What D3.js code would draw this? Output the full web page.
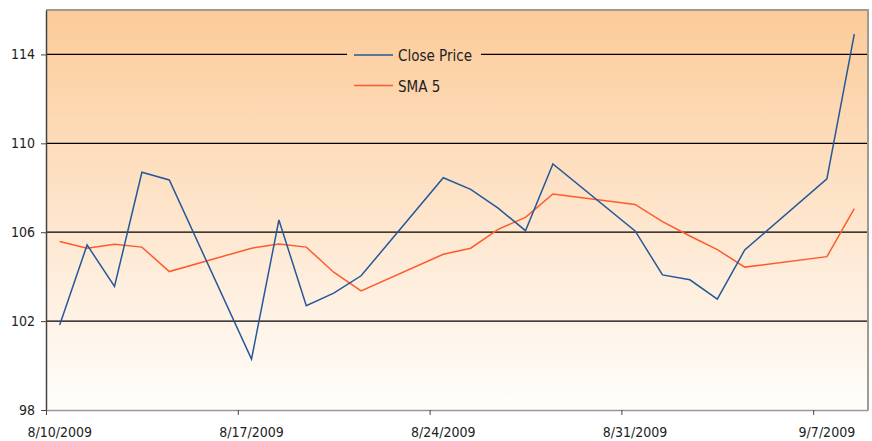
<!DOCTYPE html>
<html>
<head>
<meta charset="utf-8">
<script src="https://cdn.jsdelivr.net/npm/d3@7"></script>
<style>
  body { margin: 0; background: #fff; }
  text { font-family: "Liberation Sans Narrow", "Arial Narrow", "DejaVu Sans Condensed", sans-serif; fill: #222; }
</style>
</head>
<body>
<svg id="chart" width="872" height="441"></svg>
<script>
// chart data
var dates = ["2009-08-10", "2009-08-11", "2009-08-12", "2009-08-13", "2009-08-14",
             "2009-08-17", "2009-08-18", "2009-08-19", "2009-08-20", "2009-08-21",
             "2009-08-24", "2009-08-25", "2009-08-26", "2009-08-27", "2009-08-28",
             "2009-08-31", "2009-09-01", "2009-09-02", "2009-09-03", "2009-09-04",
             "2009-09-07", "2009-09-08"];
var close_price = [101.83, 105.43, 103.56, 108.70, 108.35,
                   100.29, 106.55, 102.69, 103.26, 104.04,
                   108.45, 107.93, 107.08, 106.07, 109.07,
                   106.06, 104.08, 103.86, 102.99, 105.20,
                   108.40, 114.91];
var sma_5 = [105.58, 105.28, 105.46, 105.33, 104.23,
             105.28, 105.47, 105.33, 104.20, 103.36,
             105.01, 105.28, 106.13, 106.67, 107.72,
             107.25, 106.48, 105.83, 105.22, 104.43,
             104.90, 107.06];
var y_ticks = [98, 102, 106, 110, 114];
var x_ticks = ["2009-08-10", "2009-08-17", "2009-08-24", "2009-08-31", "2009-09-07"];
var series_names = ["Close Price", "SMA 5"];

var blue = "#24589a";
var orange = "#ff5a2c";
var top_col = "#fccb99";
var bottom_col = "#fffefc";

var svg = d3.select("#chart");
var margin = {left: 46, right: 4, top: 10, bottom: 31};
var width = 872 - margin.left - margin.right;
var height = 441 - margin.top - margin.bottom;

var parse = d3.timeParse("%Y-%m-%d");
var fmt = d3.timeFormat("%-m/%-d/%Y");

// each day is a slot, the point sits in the middle of it
function noon(d) { return d3.timeHour.offset(d, 12); }

var x = d3.scaleTime()
    .domain([parse("2009-08-10"), parse("2009-09-09")])
    .range([0, width]);
var y = d3.scaleLinear().domain([98, 116]).range([height, 0]);

// background gradient (one for the plot, one shifted for the legend box)
var defs = svg.append("defs");
function add_gradient(id, offset) {
    var lg = defs.append("linearGradient")
        .attr("id", id)
        .attr("gradientUnits", "userSpaceOnUse")
        .attr("x1", 0).attr("y1", -offset).attr("x2", 0).attr("y2", height - offset);
    lg.append("stop").attr("offset", "0%").attr("stop-color", top_col);
    lg.append("stop").attr("offset", "100%").attr("stop-color", bottom_col);
}
add_gradient("bg", 0);
add_gradient("bg_leg", 33);

var g = svg.append("g").attr("transform", "translate(" + margin.left + "," + margin.top + ")");

g.append("rect")
    .attr("width", width).attr("height", height)
    .attr("fill", "url(#bg)");

// horizontal gridlines
g.selectAll(".grid")
    .data(y_ticks.filter(function(d) { return d > 98; }))
    .enter().append("line")
    .attr("class", "grid")
    .attr("x1", 0).attr("x2", width)
    .attr("y1", function(d) { return y(d); })
    .attr("y2", function(d) { return y(d); })
    .attr("stroke", "#000")
    .attr("stroke-width", 1.2);

// plot border on top and right
g.append("path")
    .attr("d", "M0,0H" + width + "V" + height)
    .attr("fill", "none")
    .attr("stroke", "#a09a92")
    .attr("stroke-width", 2);

// y axis
var yAxis = g.append("g")
    .call(d3.axisLeft(y).tickValues(y_ticks).tickSize(5).tickSizeOuter(0).tickPadding(6).tickFormat(d3.format("d")));
yAxis.select(".domain").attr("stroke", "#444").attr("stroke-width", 1.5);
yAxis.selectAll(".tick line").attr("stroke", "#444");
yAxis.selectAll("text").style("font-size", "14px").attr("fill", "#222");

// x axis - tick marks at the start of the day, labels under the point
var xAxis = g.append("g")
    .attr("transform", "translate(0," + height + ")")
    .call(d3.axisBottom(x).tickValues(x_ticks.map(parse)).tickSize(5).tickSizeOuter(0).tickFormat(""));
xAxis.select(".domain").attr("stroke", "#999").attr("stroke-width", 1.5);
xAxis.selectAll(".tick line").attr("stroke", "#444");

g.selectAll(".xlabel")
    .data(x_ticks)
    .enter().append("text")
    .attr("class", "xlabel")
    .attr("x", function(d) { return x(noon(parse(d))); })
    .attr("y", height + 27)
    .attr("text-anchor", "middle")
    .style("font-size", "14px")
    .text(function(d) { return fmt(parse(d)); });

// lines
var line = d3.line()
    .x(function(d) { return x(noon(parse(d[0]))); })
    .y(function(d) { return y(d[1]); });

g.append("path")
    .datum(d3.zip(dates, sma_5))
    .attr("fill", "none")
    .attr("stroke", orange)
    .attr("stroke-width", 1.5)
    .attr("d", line);

g.append("path")
    .datum(d3.zip(dates, close_price))
    .attr("fill", "none")
    .attr("stroke", blue)
    .attr("stroke-width", 1.5)
    .attr("d", line);

// legend, with the same background so it hides the gridline
var legend = g.append("g").attr("transform", "translate(301,33)");
legend.append("rect")
    .attr("width", 134).attr("height", 56)
    .attr("fill", "url(#bg_leg)");

var colors = [blue, orange];
series_names.forEach(function(name, i) {
    var ly = 12 + i * 30.5;
    legend.append("line")
        .attr("x1", 7).attr("x2", 46)
        .attr("y1", ly).attr("y2", ly)
        .attr("stroke", colors[i])
        .attr("stroke-width", 1.5);
    legend.append("text")
        .attr("x", 51).attr("y", ly + 6)
        .style("font-size", "15px")
        .text(name);
});
</script>
</body>
</html>
